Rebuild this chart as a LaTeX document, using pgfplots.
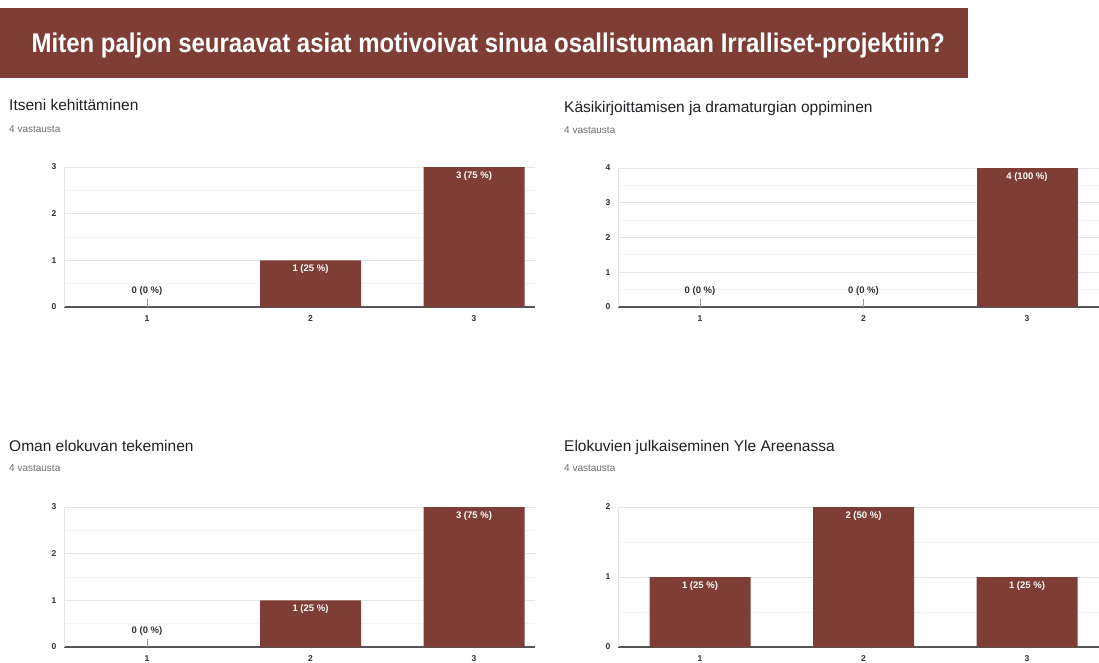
\documentclass[border=0pt]{standalone}
\usepackage{fontspec}
\setmainfont{Liberation Sans}
\usepackage{graphicx}
\usepackage{pgfplots}
\pgfplotsset{compat=1.18}
\definecolor{barc}{RGB}{126,62,53}
\definecolor{gridc}{RGB}{230,230,230}
\definecolor{gridm}{RGB}{243,243,243}
\definecolor{axc}{RGB}{85,85,85}
\definecolor{tickc}{RGB}{50,50,50}
\definecolor{subc}{RGB}{110,110,110}
\definecolor{stubc}{RGB}{150,150,150}
\definecolor{titc}{RGB}{32,33,36}
\pgfplotsset{
 gf/.style={
  scale only axis,
  ymin=0,
  xtick={1,2,3},
  ytick distance=1,
  minor y tick num=1,
  ymajorgrids, yminorgrids,
  major grid style={draw=gridc, line width=0.8pt},
  minor grid style={draw=gridm, line width=0.8pt},
  major tick length=0pt, minor tick length=0pt,
  axis x line=bottom, axis y line=left,
  axis line style={-},
  x axis line style={draw=axc, line width=1.2pt},
  y axis line style={draw=gridc, line width=0.8pt},
  tick label style={font=\fontsize{8.5}{10}\selectfont\bfseries, text=tickc},
  /pgf/number format/assume math mode=true,
  yticklabel style={xshift=-4pt},
  xticklabel style={yshift=-5pt},
 },
 leftp/.style={width=471pt, height=140pt, xmin=0.4924, xmax=3.373},
 rightp/.style={width=481pt, height=140pt, xmin=0.4985, xmax=3.4404},
 barplot/.style={ybar, bar width=101pt, bar shift=0pt, fill=barc, draw=none,
   point meta=explicit symbolic, nodes near coords,
   nodes near coords style={anchor=north, inner sep=0pt, yshift=-4pt, text=white,
     font=\fontsize{9.5}{10}\selectfont\bfseries}},
 zeroplot/.style={ybar, bar width=101pt, bar shift=0pt, fill=none, draw=none,
   point meta=explicit symbolic,
   nodes near coords={\shortstack{\pgfplotspointmeta\\\textcolor{stubc}{\rule{0.8pt}{8pt}}}},
   nodes near coords style={anchor=south, inner sep=0pt, text=tickc,
     font=\fontsize{9.5}{10}\selectfont\bfseries}},
}
\begin{document}
\begin{tikzpicture}
\path[use as bounding box, fill=white] (0,0) rectangle (1099pt,-662pt);
\fill[barc] (0,-8pt) rectangle (968pt,-78pt);
\node[anchor=base west, inner sep=0pt, text=white, font=\fontsize{27}{30}\selectfont\bfseries]
  at (31.5pt,-52.3pt) {\resizebox{913pt}{\height}{Miten paljon seuraavat asiat motivoivat sinua osallistumaan Irralliset-projektiin?}};
% panel titles
\node[anchor=base west, inner sep=0pt, text=titc, font=\fontsize{15.5}{18}\selectfont] at (9pt,-110.5pt) {Itseni kehittäminen};
\node[anchor=base west, inner sep=0pt, text=subc, font=\fontsize{10}{12}\selectfont] at (9pt,-132.7pt) {4 vastausta};
\node[anchor=base west, inner sep=0pt, text=titc, font=\fontsize{15.5}{18}\selectfont] at (564pt,-112pt) {Käsikirjoittamisen ja dramaturgian oppiminen};
\node[anchor=base west, inner sep=0pt, text=subc, font=\fontsize{10}{12}\selectfont] at (564pt,-133.5pt) {4 vastausta};
\node[anchor=base west, inner sep=0pt, text=titc, font=\fontsize{15.5}{18}\selectfont] at (9pt,-451pt) {Oman elokuvan tekeminen};
\node[anchor=base west, inner sep=0pt, text=subc, font=\fontsize{10}{12}\selectfont] at (9pt,-471.7pt) {4 vastausta};
\node[anchor=base west, inner sep=0pt, text=titc, font=\fontsize{15.5}{18}\selectfont] at (564pt,-451pt) {Elokuvien julkaiseminen Yle Areenassa};
\node[anchor=base west, inner sep=0pt, text=subc, font=\fontsize{10}{12}\selectfont] at (564pt,-471.7pt) {4 vastausta};

% panel 1
\begin{axis}[gf, leftp, ymax=3, at={(64pt,-307pt)}, anchor=south west]
\addplot[barplot] coordinates {(2,1) [1 (25 \%)] (3,3) [3 (75 \%)]};
\addplot[zeroplot] coordinates {(1,0) [0 (0 \%)]};
\end{axis}
% panel 2
\begin{axis}[gf, rightp, ymax=4, height=139pt, at={(618pt,-307pt)}, anchor=south west]
\addplot[barplot] coordinates {(3,4) [4 (100 \%)]};
\addplot[zeroplot] coordinates {(1,0) [0 (0 \%)] (2,0) [0 (0 \%)]};
\end{axis}
% panel 3
\begin{axis}[gf, leftp, ymax=3, at={(64pt,-647pt)}, anchor=south west]
\addplot[barplot] coordinates {(2,1) [1 (25 \%)] (3,3) [3 (75 \%)]};
\addplot[zeroplot] coordinates {(1,0) [0 (0 \%)]};
\end{axis}
% panel 4
\begin{axis}[gf, rightp, ymax=2, at={(618pt,-647pt)}, anchor=south west]
\addplot[barplot] coordinates {(1,1) [1 (25 \%)] (2,2) [2 (50 \%)] (3,1) [1 (25 \%)]};
\end{axis}
\end{tikzpicture}
\end{document}
